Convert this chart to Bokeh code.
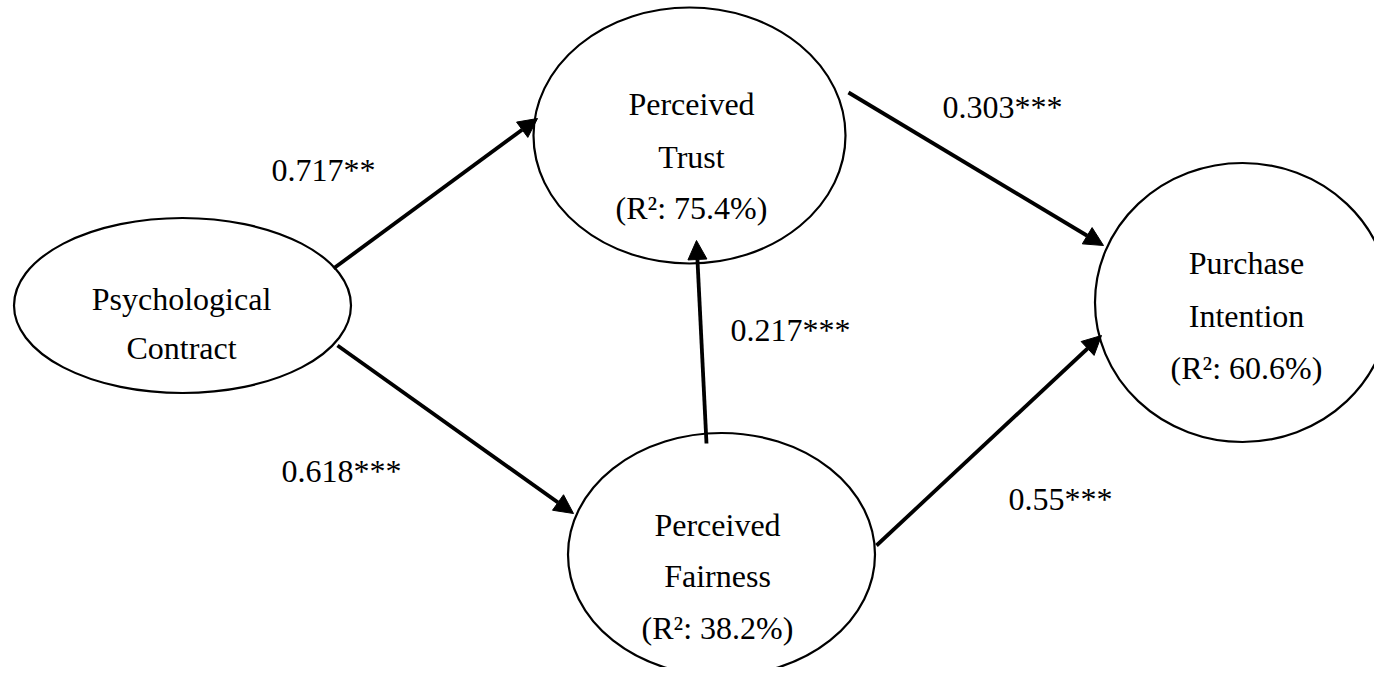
from bokeh.plotting import figure
from bokeh.models import Range1d, Arrow, NormalHead, ColumnDataSource
from bokeh.core.properties import value
from bokeh.embed import file_html
from bokeh.resources import INLINE

# ---- data ----
node_line1 = ["Psychological", "Perceived", "Purchase", "Perceived"]
node_line2 = ["Contract", "Trust", "Intention", "Fairness"]
r_squared = [None, 75.4, 60.6, 38.2]          # percent
path_coef = ["0.717", "0.618", "0.217", "0.303", "0.55"]
path_sig = ["**", "***", "***", "***", "***"]

# ---- layout (picture pixel coordinates) ----
node_x = [182, 689, 1242, 721]
node_y = [305, 135, 302, 554]
node_w = [337, 312, 295, 307]
node_h = [175, 256, 279, 243]
text_x = [181, 691, 1246, 717]
base1 = [298, 103, 262, 524]
base2 = [347, 156, 315, 575]
base3 = [None, 207, 367, 627]

arrow_x0 = [333, 337, 706, 848, 876]
arrow_y0 = [268, 345, 443, 92, 545]
arrow_x1 = [537, 573, 696, 1103, 1101]
arrow_y1 = [118, 513, 240, 245, 335]

lab_x = [271, 281, 730, 942, 1008]
lab_y = [169, 470, 329, 106, 498]

FONT = value("Liberation Serif")
FS = "32px"

p = figure(width=1374, height=667, output_backend="svg", toolbar_location=None,
           x_range=Range1d(0, 1374), y_range=Range1d(667, 0),
           min_border=0, background_fill_color="white", border_fill_color="white")
p.axis.visible = False
p.grid.visible = False
p.outline_line_color = None

p.ellipse(x=node_x, y=node_y, width=node_w, height=node_h,
          fill_color=None, line_color="black", line_width=2.2)

src = ColumnDataSource(dict(x0=arrow_x0, y0=arrow_y0, x1=arrow_x1, y1=arrow_y1))
p.add_layout(Arrow(end=NormalHead(size=19, fill_color="black", line_color="black", line_width=1),
                   x_start="x0", y_start="y0", x_end="x1", y_end="y1",
                   line_width=3.8, line_color="black", source=src))

p.text(x=text_x, y=base1, text=node_line1, text_font=FONT, text_font_size=FS,
       text_align="center", text_baseline="alphabetic", text_color="black")
p.text(x=text_x, y=base2, text=node_line2, text_font=FONT, text_font_size=FS,
       text_align="center", text_baseline="alphabetic", text_color="black")

r_lines, r_x, r_y = [], [], []
for i, r in enumerate(r_squared):
    if r is not None:
        r_lines.append(f"(R\u00b2: {r}%)")
        r_x.append(text_x[i])
        r_y.append(base3[i])
p.text(x=r_x, y=r_y, text=r_lines, text_font=FONT, text_font_size=FS,
       text_align="center", text_baseline="alphabetic", text_color="black")

labels = [c + s for c, s in zip(path_coef, path_sig)]
p.text(x=lab_x, y=lab_y, text=labels, text_font=FONT, text_font_size=FS,
       text_align="left", text_baseline="alphabetic", text_color="black")

open("out.html", "w").write(file_html(p, INLINE))
